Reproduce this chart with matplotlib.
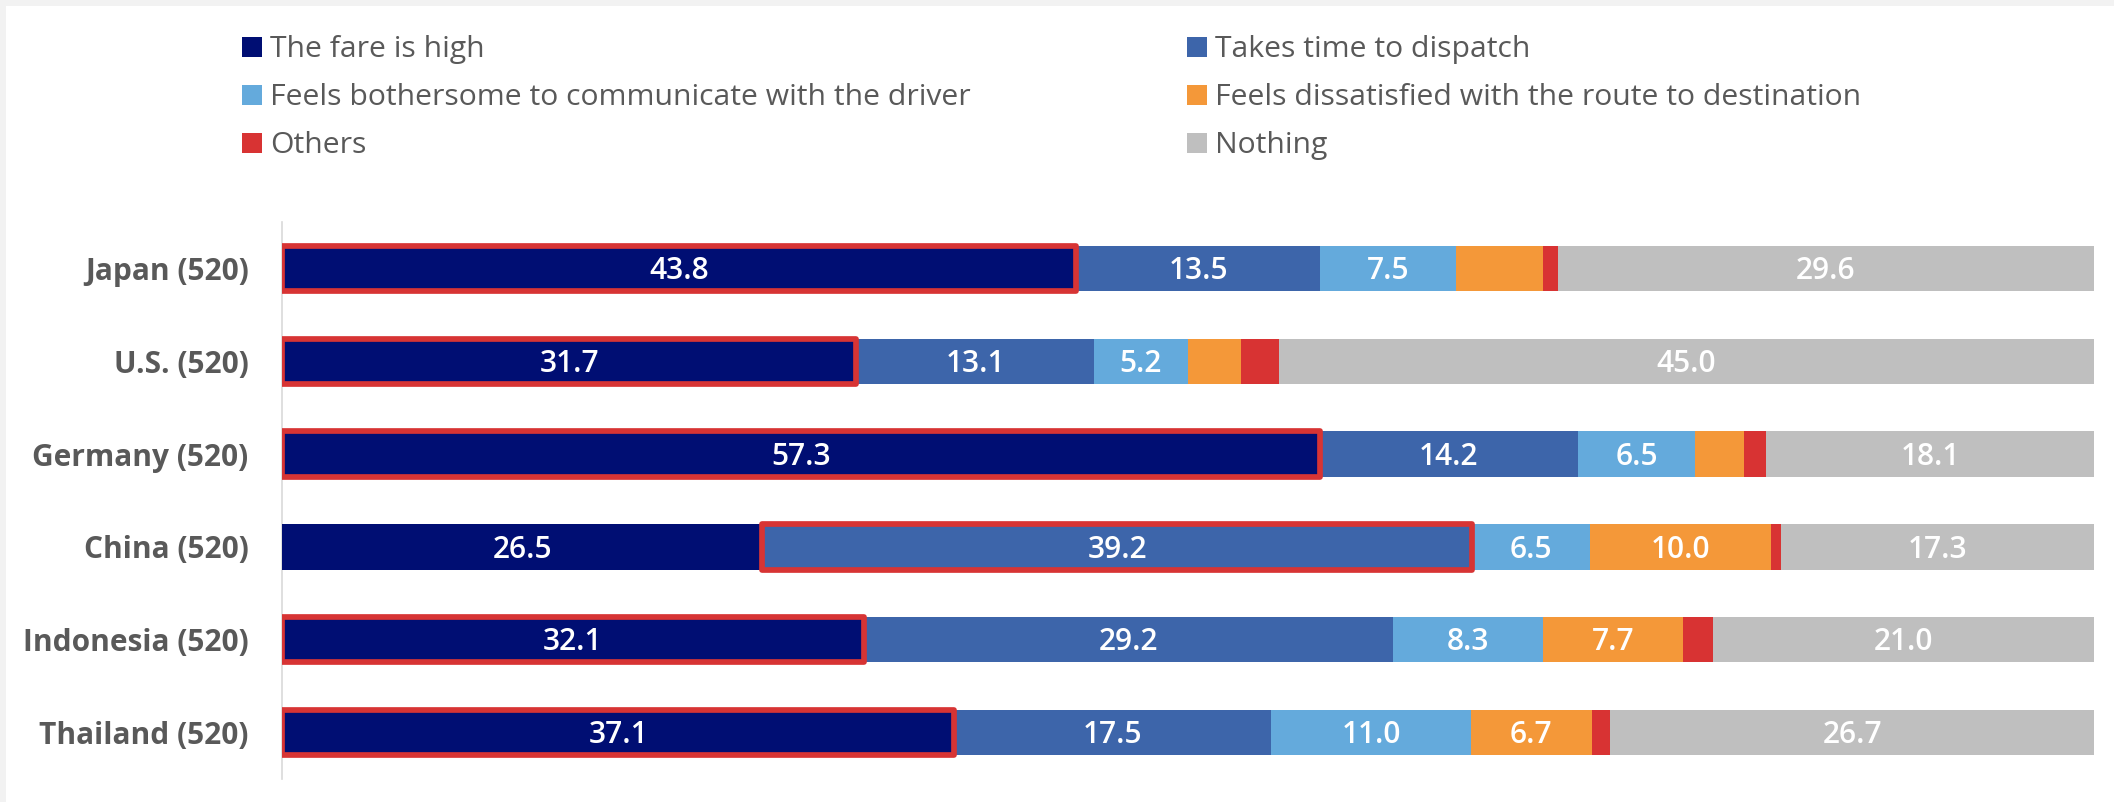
import matplotlib
matplotlib.use("Agg")
import matplotlib.pyplot as plt
from matplotlib.patches import Rectangle
import numpy as np

# ---- data -------------------------------------------------------------
countries = ["Japan (520)", "U.S. (520)", "Germany (520)", "China (520)",
             "Indonesia (520)", "Thailand (520)"]

series_names = ["The fare is high", "Takes time to dispatch",
                "Feels bothersome to communicate with the driver",
                "Feels dissatisfied with the route to destination",
                "Others", "Nothing"]

fare_high = [43.8, 31.7, 57.3, 26.5, 32.1, 37.1]
dispatch = [13.5, 13.1, 14.2, 39.2, 29.2, 17.5]
bothersome = [7.5, 5.2, 6.5, 6.5, 8.3, 11.0]
route = [4.8, 2.9, 2.7, 10.0, 7.7, 6.7]
others = [0.8, 2.1, 1.2, 0.5, 1.7, 1.0]
nothing = [29.6, 45.0, 18.1, 17.3, 21.0, 26.7]

colors = ["#000E73", "#3D65AA", "#64AADC", "#F49839", "#D83333", "#BFBFBF"]
highlight_color = "#D73434"
text_gray = "#595959"
FONT = ["Open Sans", "DejaVu Sans"]

plt.rcParams["font.family"] = FONT

series = [fare_high, dispatch, bothersome, route, others, nothing]
data = np.array(series, dtype=float)

W, H = 2114, 802
fig = plt.figure(figsize=(W / 100, H / 100), dpi=100)
fig.patch.set_facecolor("white")

# thin grey frame strips along the top and left edges
fig.add_artist(Rectangle((0, 1 - 6 / H), 1, 6 / H, transform=fig.transFigure,
                         facecolor="#F2F2F2", edgecolor="none", zorder=0))
fig.add_artist(Rectangle((0, 0), 6 / W, 1, transform=fig.transFigure,
                         facecolor="#F2F2F2", edgecolor="none", zorder=0))

ax = fig.add_axes([282 / W, (H - 779) / H, 1812 / W, 557 / H])
ax.set_facecolor("none")

y = np.arange(len(countries))
bar_h = 0.49
lefts = np.zeros(len(countries))
containers = []
for vals, name, col in zip(data, series_names, colors):
    bc = ax.barh(y, vals, left=lefts, height=bar_h, color=col,
                 edgecolor="none", label=name, zorder=2)
    containers.append(bc)
    for yi, (l, v) in enumerate(zip(lefts, vals)):
        if v >= 5:
            ax.annotate(f"{v:.1f}", xy=(l + v / 2, yi), xytext=(0, -7.7),
                        textcoords="offset points", ha="center",
                        va="baseline", color="white", fontsize=21.5,
                        fontweight="semibold", zorder=4)
    lefts = lefts + vals

# outline the largest reason (excluding "Nothing") in each country
starts = np.vstack([np.zeros(len(countries)), np.cumsum(data, axis=0)[:-1]])
for yi in range(len(countries)):
    k = int(np.argmax(data[:5, yi]))
    ax.barh(yi, data[k, yi], left=starts[k, yi], height=bar_h, fill=False,
            edgecolor=highlight_color, linewidth=4.1, joinstyle="round",
            zorder=3)

ax.set_xlim(0, 100)
ax.set_ylim(len(countries) - 0.5, -0.5)
ax.set_yticks(y)
ax.set_yticklabels(countries, fontsize=21.5, fontweight="bold",
                   color=text_gray)
ax.tick_params(axis="y", length=0, pad=24)
ax.set_xticks([])
for s in ["top", "right", "bottom"]:
    ax.spines[s].set_visible(False)
ax.spines["left"].set_color("#D9D9D9")
ax.spines["left"].set_linewidth(1.2)
ax.spines["left"].set_zorder(1)

# legend laid out in two columns, filled row by row
col_x = [242, 1187]
row_base = [57, 105, 153]
sq = 20
for i, (name, bc) in enumerate(zip(series_names, containers)):
    c, r = i % 2, i // 2
    x0 = col_x[c]
    yb = row_base[r]
    fig.add_artist(Rectangle((x0 / W, (H - yb) / H), sq / W, sq / H,
                             transform=fig.transFigure,
                             facecolor=bc.patches[0].get_facecolor(),
                             edgecolor="none"))
    fig.text((x0 + sq + 8) / W, (H - yb) / H, name, ha="left",
             va="baseline", fontsize=21.7, color=text_gray)

fig.savefig("out.png", dpi=100, facecolor=fig.get_facecolor())
